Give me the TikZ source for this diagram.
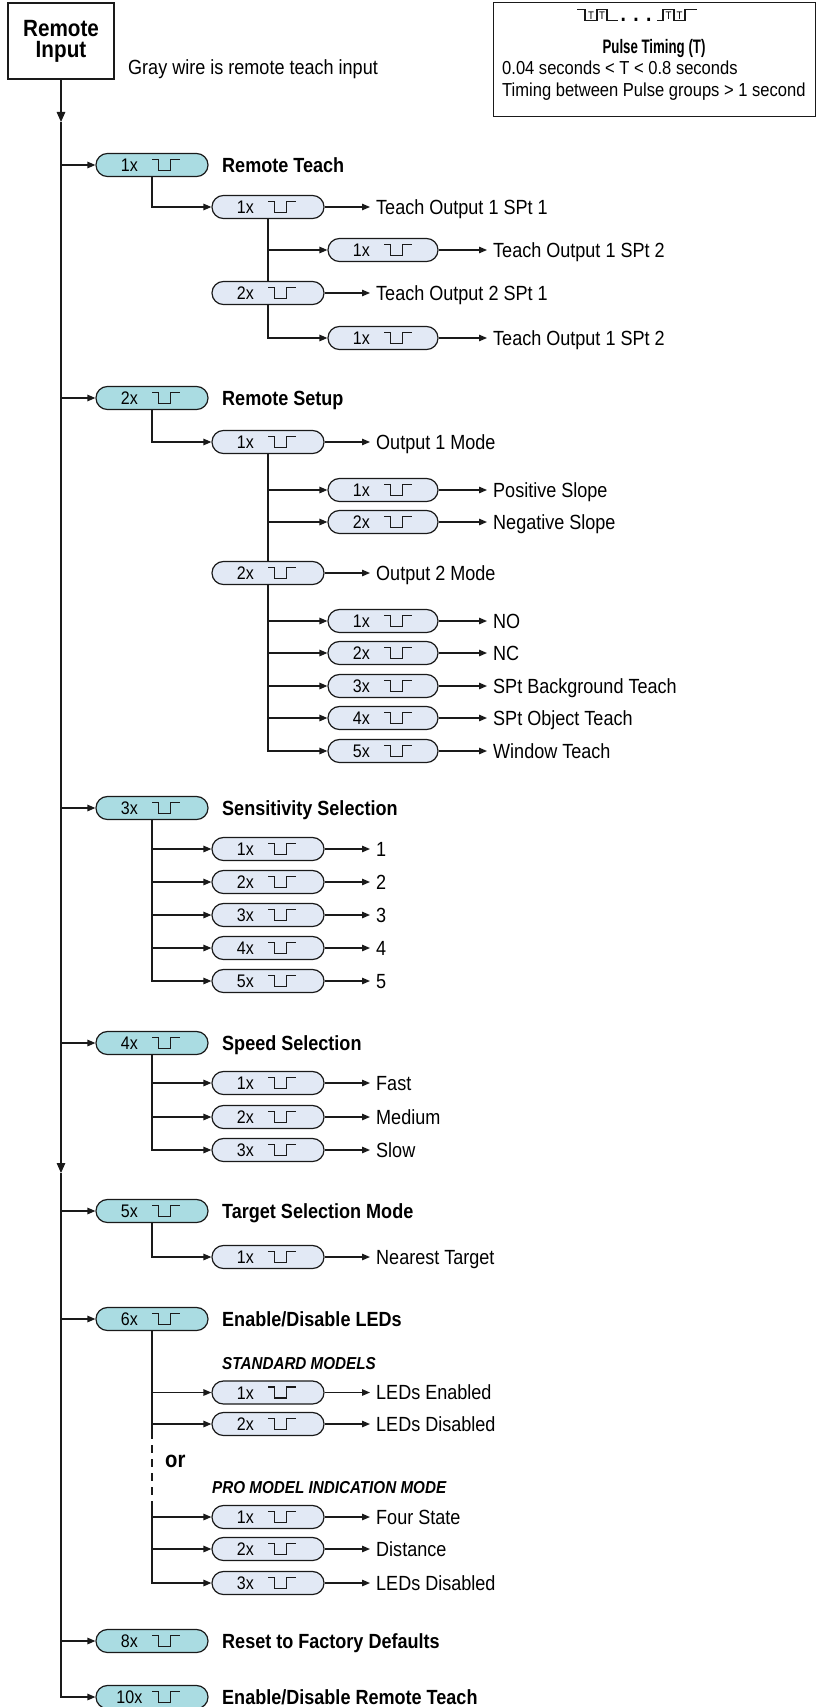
\documentclass[tikz,border=0pt]{standalone}
\usepackage{fontspec}
\setmainfont[FakeStretch=0.88]{Liberation Sans}
\newfontfamily\condbold[FakeStretch=0.68]{Liberation Sans}
\usetikzlibrary{arrows.meta}
\definecolor{tealfill}{HTML}{AADCE2}
\definecolor{lavfill}{HTML}{E2E9F5}
\definecolor{ink}{HTML}{1A1A1A}
\tikzset{
  pillbase/.style={draw=ink, line width=1.2pt, rounded corners=11.4pt, minimum height=23pt, inner sep=0pt},
  pa/.style={pillbase, fill=tealfill, minimum width=112pt},
  pb/.style={pillbase, fill=lavfill, minimum width=112pt},
  pc/.style={pillbase, fill=lavfill, minimum width=110pt},
  cnt/.style={inner sep=0pt, font=\fontsize{18.2}{17}\selectfont, text height=13pt, text depth=0pt},
  symb/.style={draw=ink, line width=1.2pt},
  ln/.style={draw=ink, line width=1.3pt},
  arr/.style={ln, -{Triangle[length=8pt,width=6.5pt]}},
  trunkarr/.style={ln, -{Triangle[length=10pt,width=8.5pt]}},
  head/.style={anchor=west, inner sep=0pt, font=\bfseries\fontsize{20.5}{20}\selectfont, text height=14.7pt, text depth=0pt},
  res/.style={anchor=west, inner xsep=6pt, inner ysep=0pt, font=\fontsize{20.5}{20}\selectfont, text height=14.7pt, text depth=0pt},
  subhd/.style={anchor=west, inner sep=0pt, font=\bfseries\itshape\fontsize{17.3}{17}\selectfont, text height=12.4pt, text depth=0pt},
  boxtxt/.style={anchor=west, inner sep=0pt, font=\fontsize{18.8}{18}\selectfont, text height=13.4pt, text depth=0pt},
  tlet/.style={inner sep=0pt, font=\fontsize{11}{11}\selectfont},
}
\newcommand\pill[5]{%
  \node[#1] (#2) at (#3,#4) {};
  \node[cnt] (#2n) at ([xshift=34pt]#2.west) {#5};
  \draw[symb] ([xshift=57pt,yshift=5.5pt]#2.west) -- ++(6,0) -- ++(0,11) -- ++(12,0) -- ++(0,-11) -- ++(10,0);}
\begin{document}
\begin{tikzpicture}[x=1pt,y=-1pt]
\useasboundingbox (0,0) rectangle (817,1707);
% header
\node[draw=ink, line width=1.8pt, minimum width=106pt, minimum height=76pt, inner sep=0pt, align=center, font=\bfseries\fontsize{23.5}{21}\selectfont] (ri) at (61,41) {Remote\\Input};
\node[anchor=west, inner sep=0pt, font=\fontsize{20.5}{20}\selectfont, text height=14.7pt, text depth=0pt] (gw) at (128,67) {Gray wire is remote teach input};
% pulse timing box
\node[draw=ink, line width=1.3pt, minimum width=322pt, minimum height=114pt, inner sep=0pt, anchor=north west] (pt) at (493,2) {};
\node[inner sep=0pt, font=\condbold\bfseries\fontsize{19.5}{19}\selectfont, text height=14pt, text depth=0pt] (ptt) at (654,47) {Pulse Timing (T)};
\node[boxtxt] (pt1) at (502,68) {0.04 seconds < T < 0.8 seconds};
\node[boxtxt] (pt2) at (502,90) {Timing between Pulse groups > 1 second};
\draw[symb, line width=1.3pt] (577,9.5) -- (585,9.5) -- (585,20.5) -- (597,20.5) -- (597,9.5) -- (607,9.5) -- (607,20.5) -- (618,20.5);
\draw[symb, line width=1.3pt] (657,20.5) -- (663,20.5) -- (663,9.5) -- (674,9.5) -- (674,20.5) -- (685,20.5) -- (685,9.5) -- (697,9.5);
\node[tlet] (w1) at (591,15.5) {T};
\node[tlet] (w2) at (602,15.5) {T};
\node[tlet] (w3) at (668.5,15.5) {T};
\node[tlet] (w4) at (679.5,15.5) {T};
\node[anchor=base, inner sep=0pt, font=\bfseries\fontsize{22}{22}\selectfont] (dots) at (636,21.5) {.\,\,.\,\,.};
% main line
\coordinate (a1) at (61,122);
\coordinate (a2) at (61,1173);
% ---- section 1
\pill{pa}{A1}{152}{165}{1x}
\node[head] (H1) at (222,165) {Remote Teach};
\pill{pb}{B11}{268}{207}{1x}
\pill{pc}{C111}{383}{250}{1x}
\pill{pb}{B12}{268}{293}{2x}
\pill{pc}{C121}{383}{338}{1x}
\node[res] (T11) at (370,207) {Teach Output 1 SPt 1};
\node[res] (T111) at (487,250) {Teach Output 1 SPt 2};
\node[res] (T12) at (370,293) {Teach Output 2 SPt 1};
\node[res] (T121) at (487,338) {Teach Output 1 SPt 2};
\draw[arr] (A1.south) |- (B11.west);
\draw[arr] (B11.south) |- (C111.west);
\draw[ln] (B11.south) -- (B12.north);
\draw[arr] (B12.south) |- (C121.west);
\draw[arr] (B11.east) -- (T11.west);
\draw[arr] (C111.east) -- (T111.west);
\draw[arr] (B12.east) -- (T12.west);
\draw[arr] (C121.east) -- (T121.west);
% ---- section 2
\pill{pa}{A2}{152}{398}{2x}
\node[head] (H2) at (222,398) {Remote Setup};
\pill{pb}{B21}{268}{442}{1x}
\pill{pc}{C211}{383}{490}{1x}
\pill{pc}{C212}{383}{522}{2x}
\pill{pb}{B22}{268}{573}{2x}
\pill{pc}{C221}{383}{621}{1x}
\pill{pc}{C222}{383}{653}{2x}
\pill{pc}{C223}{383}{686}{3x}
\pill{pc}{C224}{383}{718}{4x}
\pill{pc}{C225}{383}{751}{5x}
\node[res] (T21) at (370,442) {Output 1 Mode};
\node[res] (T211) at (487,490) {Positive Slope};
\node[res] (T212) at (487,522) {Negative Slope};
\node[res] (T22) at (370,573) {Output 2 Mode};
\node[res] (T221) at (487,621) {NO};
\node[res] (T222) at (487,653) {NC};
\node[res] (T223) at (487,686) {SPt Background Teach};
\node[res] (T224) at (487,718) {SPt Object Teach};
\node[res] (T225) at (487,751) {Window Teach};
\draw[arr] (A2.south) |- (B21.west);
\draw[arr] (B21.south) |- (C211.west);
\draw[arr] (B21.south) |- (C212.west);
\draw[ln] (B21.south) -- (B22.north);
\foreach \i in {1,...,5}{\draw[arr] (B22.south) |- (C22\i.west);}
\draw[arr] (B21.east) -- (T21.west);
\draw[arr] (B22.east) -- (T22.west);
\draw[arr] (C211.east) -- (T211.west);
\draw[arr] (C212.east) -- (T212.west);
\foreach \i in {1,...,5}{\draw[arr] (C22\i.east) -- (T22\i.west);}
% ---- section 3
\pill{pa}{A3}{152}{808}{3x}
\node[head] (H3) at (222,808) {Sensitivity Selection};
\pill{pb}{B31}{268}{849}{1x}
\pill{pb}{B32}{268}{882}{2x}
\pill{pb}{B33}{268}{915}{3x}
\pill{pb}{B34}{268}{948}{4x}
\pill{pb}{B35}{268}{981}{5x}
\node[res] (T31) at (370,849) {1};
\node[res] (T32) at (370,882) {2};
\node[res] (T33) at (370,915) {3};
\node[res] (T34) at (370,948) {4};
\node[res] (T35) at (370,981) {5};
\foreach \i in {1,...,5}{\draw[arr] (A3.south) |- (B3\i.west); \draw[arr] (B3\i.east) -- (T3\i.west);}
% ---- section 4
\pill{pa}{A4}{152}{1043}{4x}
\node[head] (H4) at (222,1043) {Speed Selection};
\pill{pb}{B41}{268}{1083}{1x}
\pill{pb}{B42}{268}{1117}{2x}
\pill{pb}{B43}{268}{1150}{3x}
\node[res] (T41) at (370,1083) {Fast};
\node[res] (T42) at (370,1117) {Medium};
\node[res] (T43) at (370,1150) {Slow};
\foreach \i in {1,...,3}{\draw[arr] (A4.south) |- (B4\i.west); \draw[arr] (B4\i.east) -- (T4\i.west);}
% ---- section 5
\pill{pa}{A5}{152}{1211}{5x}
\node[head] (H5) at (222,1211) {Target Selection Mode};
\pill{pb}{B51}{268}{1257}{1x}
\node[res] (T51) at (370,1257) {Nearest Target};
\draw[arr] (A5.south) |- (B51.west);
\draw[arr] (B51.east) -- (T51.west);
% ---- section 6
\pill{pa}{A6}{152}{1319}{6x}
\node[head] (H6) at (222,1319) {Enable/Disable LEDs};
\node[subhd] (S1) at (222,1363) {STANDARD MODELS};
\pill{pb}{B61}{268}{1392.5}{1x}
\pill{pb}{B62}{268}{1424}{2x}
\node[res] (T61) at (370,1392.5) {LEDs Enabled};
\node[res] (T62) at (370,1424) {LEDs Disabled};
\node[anchor=base west, inner sep=0pt, font=\bfseries\fontsize{23}{23}\selectfont] (orw) at (165,1467) {or};
\node[subhd] (S2) at (212,1487.5) {PRO MODEL INDICATION MODE};
\pill{pb}{B63}{268}{1517}{1x}
\pill{pb}{B64}{268}{1549}{2x}
\pill{pb}{B65}{268}{1583}{3x}
\node[res] (T63) at (370,1517) {Four State};
\node[res] (T64) at (370,1549) {Distance};
\node[res] (T65) at (370,1583) {LEDs Disabled};
\coordinate (d1) at (152,1431);
\coordinate (d2) at (152,1504);
\draw[arr] (A6.south) |- (B61.west);
\draw[arr] (A6.south) |- (B62.west);
\draw[ln] (A6.south) -- (d1);
\draw[ln, dash pattern=on 8pt off 6pt] (d1) -- (d2);
\foreach \i in {3,4,5}{\draw[arr] (d2) |- (B6\i.west);}
\foreach \i in {1,...,5}{\draw[arr] (B6\i.east) -- (T6\i.west);}
% ---- section 7, 8
\pill{pa}{A7}{152}{1641}{8x}
\node[head] (H7) at (222,1641) {Reset to Factory Defaults};
\pill{pa}{A8}{152}{1697}{10x}
\node[head] (H8) at (222,1697) {Enable/Disable Remote Teach};
% main trunk
\draw[trunkarr] (ri.south) -- (a1);
\draw[trunkarr] (a1) -- (a2);
\draw[arr] (a2) |- (A8.west);
\foreach \i in {1,...,7}{\draw[arr] (ri.south |- A\i.west) -- (A\i.west);}
\end{tikzpicture}
\end{document}
